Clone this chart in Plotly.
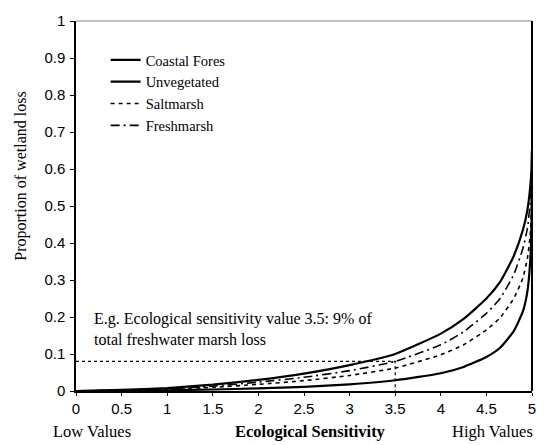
import plotly.graph_objects as go

# Ecological sensitivity (x) and proportion of wetland loss per wetland type
sensitivity = [0, 0.5, 1, 1.5, 2, 2.5, 3, 3.5, 4, 4.25, 4.5, 4.65, 4.8, 4.9, 4.95, 4.98, 4.995, 5.0]
coastal_forest = [0, 0.003, 0.008, 0.017, 0.03, 0.047, 0.07, 0.10, 0.155, 0.195, 0.25, 0.295, 0.365, 0.435, 0.49, 0.55, 0.60, 0.65]
unvegetated = [0, 0.001, 0.002, 0.004, 0.007, 0.011, 0.018, 0.029, 0.048, 0.065, 0.092, 0.117, 0.162, 0.215, 0.27, 0.35, 0.46, 0.65]
saltmarsh = [0, 0.002, 0.005, 0.01, 0.018, 0.028, 0.042, 0.062, 0.098, 0.125, 0.165, 0.198, 0.25, 0.305, 0.36, 0.42, 0.50, 0.65]
freshmarsh = [0, 0.002, 0.006, 0.013, 0.024, 0.037, 0.055, 0.08, 0.125, 0.16, 0.21, 0.25, 0.315, 0.385, 0.44, 0.51, 0.58, 0.65]

# Example reading: sensitivity 3.5 -> freshwater marsh loss
example_x = 3.5
example_y = 0.08

x_ticks = [0, 0.5, 1, 1.5, 2, 2.5, 3, 3.5, 4, 4.5, 5]
x_tick_labels = ["0", "0.5", "1", "1.5", "2", "2.5", "3", "3.5", "4", "4.5", "5"]
y_ticks = [0, 0.1, 0.2, 0.3, 0.4, 0.5, 0.6, 0.7, 0.8, 0.9, 1]
y_tick_labels = ["0", "0.1", "0.2", "0.3", "0.4", "0.5", "0.6", "0.7", "0.8", "0.9", "1"]

SERIF = "Liberation Serif, Times New Roman, serif"
SANS = "Liberation Sans, Arial, sans-serif"

fig = go.Figure()

fig.add_trace(go.Scatter(
    x=[0, example_x, example_x], y=[example_y, example_y, 0],
    mode="lines", line=dict(color="black", width=1.2, dash="dot"),
    showlegend=False, hoverinfo="skip"))

series = [
    ("Coastal Fores", coastal_forest, dict(color="black", width=2.2, dash="solid")),
    ("Unvegetated", unvegetated, dict(color="black", width=2.2, dash="solid")),
    ("Saltmarsh", saltmarsh, dict(color="black", width=1.6, dash="4px,4px")),
    ("Freshmarsh", freshmarsh, dict(color="black", width=1.6, dash="9px,4px,2px,4px")),
]
for name, vals, ln in series:
    fig.add_trace(go.Scatter(
        x=sensitivity, y=vals, mode="lines", name=name,
        line=dict(shape="spline", smoothing=0.5, **ln)))

fig.update_layout(
    width=548, height=445,
    margin=dict(l=76, r=15, t=16, b=54),
    paper_bgcolor="white", plot_bgcolor="white",
    showlegend=True,
    legend=dict(x=0.065, y=0.938, xanchor="left", yanchor="top",
                bgcolor="rgba(0,0,0,0)", itemwidth=30,
                font=dict(family=SERIF, size=14.5, color="black"),
                tracegroupgap=0),
    xaxis=dict(range=[0, 5], tickvals=x_ticks, ticktext=x_tick_labels,
               showgrid=False, zeroline=False, showline=True,
               linecolor="black", linewidth=1.5, ticks="outside",
               ticklen=3, tickcolor="black",
               tickfont=dict(family=SANS, size=15, color="black")),
    yaxis=dict(range=[0, 1], tickvals=y_ticks, ticktext=y_tick_labels,
               showgrid=False, zeroline=False, showline=True,
               linecolor="black", linewidth=1.5, ticks="outside",
               ticklen=4, tickcolor="black", ticklabelstandoff=2,
               tickfont=dict(family=SANS, size=15, color="black")),
    shapes=[
        dict(type="line", xref="paper", yref="paper", x0=0, x1=1, y0=1, y1=1,
             line=dict(color="#888888", width=1.2)),
        dict(type="line", xref="paper", yref="paper", x0=1, x1=1, y0=0, y1=1,
             line=dict(color="black", width=2)),
    ],
    annotations=[
        dict(text="E.g. Ecological sensitivity value 3.5: 9% of<br>total freshwater marsh loss",
             xref="paper", yref="paper", x=0.035, y=0.167, xanchor="left", yanchor="middle",
             align="left", showarrow=False,
             font=dict(family=SERIF, size=16, color="black")),
        dict(text="Proportion of wetland loss", xref="paper", yref="paper",
             x=-0.12, y=0.58, xanchor="center", yanchor="middle", textangle=-90,
             showarrow=False, font=dict(family=SERIF, size=16, color="black")),
        dict(text="Low Values", xref="paper", yref="paper",
             x=0.036, y=-0.11, xanchor="center", yanchor="middle",
             showarrow=False, font=dict(family=SERIF, size=16.5, color="black")),
        dict(text="<b>Ecological Sensitivity</b>", xref="paper", yref="paper",
             x=0.514, y=-0.11, xanchor="center", yanchor="middle",
             showarrow=False, font=dict(family=SERIF, size=16.5, color="black")),
        dict(text="High Values", xref="paper", yref="paper",
             x=0.913, y=-0.11, xanchor="center", yanchor="middle",
             showarrow=False, font=dict(family=SERIF, size=16.5, color="black")),
    ],
)

fig.write_html("out.html")
